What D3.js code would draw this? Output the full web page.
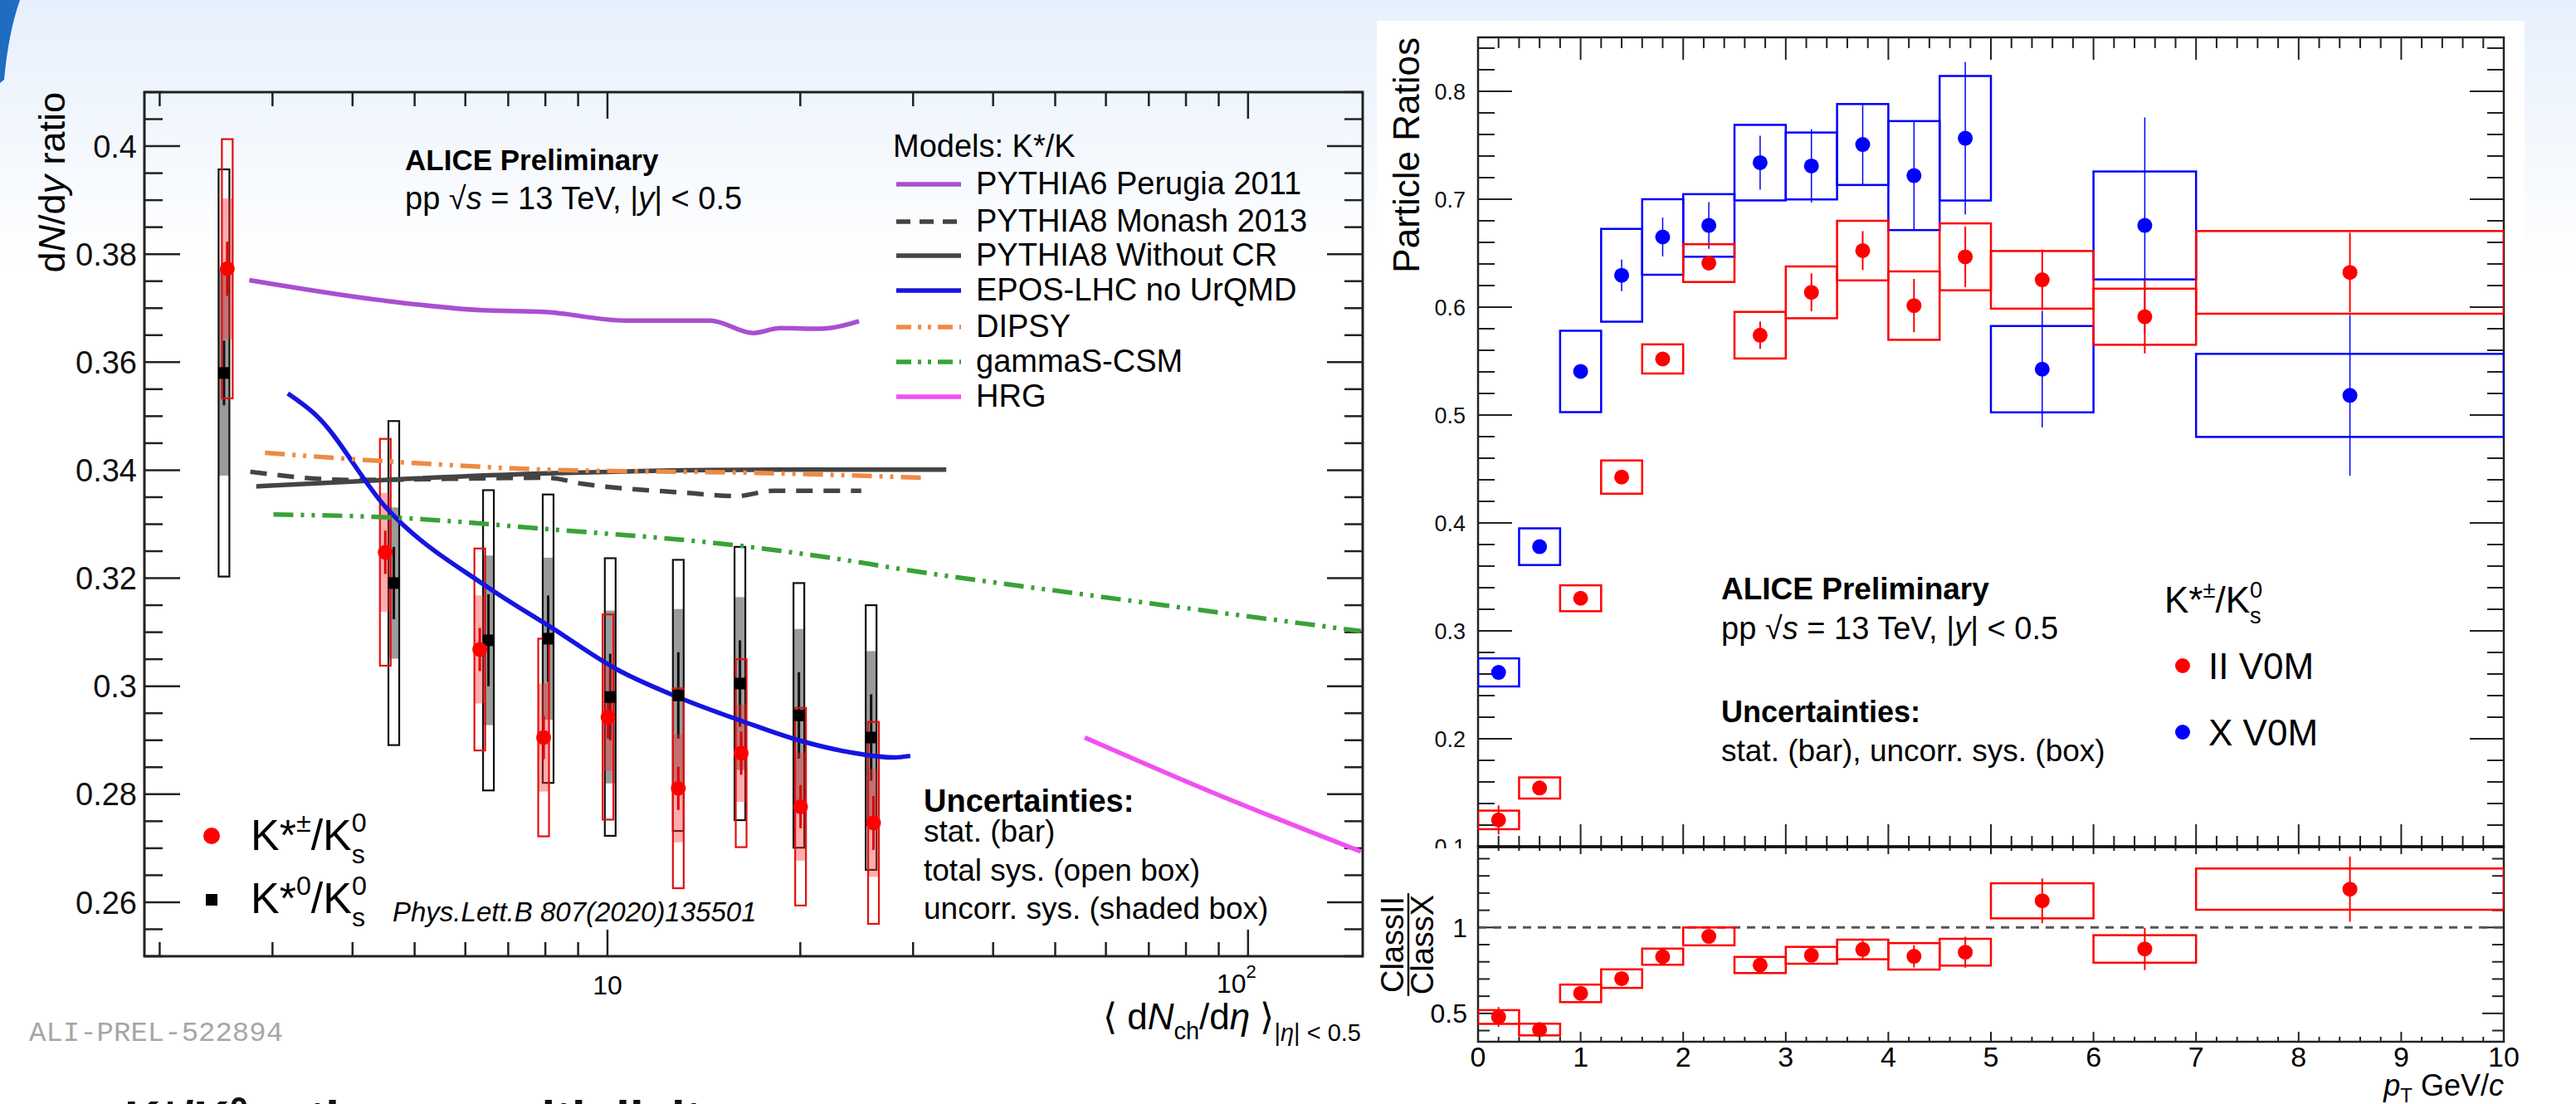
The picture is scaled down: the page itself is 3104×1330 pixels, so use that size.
<!DOCTYPE html>
<html>
<head>
<meta charset="UTF-8">
<title>K*/K ratios vs multiplicity and pT</title>
<script src="https://d3js.org/d3.v7.min.js"></script>
<style>
  body { margin: 0; background: #fff; }
  svg { display: block; font-family: "Liberation Sans", Arial, sans-serif; }
</style>
</head>
<body>
<script>
// ---------- left panel data: dN/dy ratio vs <dNch/deta>
const multRed   = [2.55, 4.50, 6.32, 7.95, 10.02, 12.9, 16.17, 20.02, 26.02];
const ratioRed  = [0.3773, 0.3248, 0.3068, 0.2905, 0.2943, 0.2811, 0.2876, 0.2777, 0.2747];
const statRed   = [0.005, 0.004, 0.004, 0.004, 0.004, 0.004, 0.004, 0.004, 0.005];
const uncRed    = [0.013, 0.011, 0.010, 0.010, 0.010, 0.010, 0.009, 0.010, 0.010];
const totRed    = [0.024, 0.021, 0.0187, 0.0183, 0.019, 0.0185, 0.0174, 0.0183, 0.0187];

const multBlack  = [2.52, 4.64, 6.52, 8.08, 10.1, 12.9, 16.1, 19.9, 25.8];
const ratioBlack = [0.358, 0.3191, 0.3085, 0.3088, 0.298, 0.2983, 0.3005, 0.2946, 0.2905];
const statBlack  = [0.006, 0.0067, 0.0085, 0.008, 0.008, 0.008, 0.008, 0.008, 0.008];
const uncBlack   = [0.019, 0.014, 0.0157, 0.015, 0.016, 0.016, 0.016, 0.016, 0.016];
const totBlack   = [0.0377, 0.030, 0.0278, 0.0267, 0.0257, 0.0251, 0.0253, 0.0245, 0.0245];

// model curves (x = <dNch/deta>, y = K*/K)
const pythia6X = [2.76, 4.48, 6.39, 7.97, 10.68, 14.47, 16.9, 18.6, 21.5, 24.7];
const pythia6Y = [0.3752, 0.3714, 0.3696, 0.3693, 0.3677, 0.3677, 0.3654, 0.3663, 0.3662, 0.3676];
const monashX = [2.77, 3.95, 8.04, 9.13, 13.3, 15.9, 18.2, 24.9];
const monashY = [0.3397, 0.3382, 0.3386, 0.3375, 0.3358, 0.3352, 0.3362, 0.3362];
const noCrX = [2.83, 4.48, 8.04, 18.6, 33.8];
const noCrY = [0.3370, 0.3382, 0.3394, 0.3401, 0.3401];
const eposX = [3.17, 3.50, 4.51, 6.47, 8.19, 10.35, 12.87, 16.26, 19.87, 24.66, 27.99, 29.7];
const eposY = [0.3542, 0.3503, 0.3331, 0.3185, 0.3108, 0.3031, 0.298, 0.2935, 0.290, 0.2875, 0.2868, 0.2871];
const dipsyX = [2.92, 4.87, 8.04, 17.1, 31.2];
const dipsyY = [0.3432, 0.3414, 0.3401, 0.3395, 0.3386];
const gammaX = [3.01, 4.67, 8.04, 16.1, 22.2, 29.4, 57.8, 150];
const gammaY = [0.3318, 0.3312, 0.3291, 0.326, 0.3238, 0.3215, 0.3167, 0.3102];
const hrgX = [55.6, 88.5, 150];
const hrgY = [0.2905, 0.2802, 0.2694];

const modelNames = ["PYTHIA6 Perugia 2011", "PYTHIA8 Monash 2013", "PYTHIA8 Without CR",
                    "EPOS-LHC no UrQMD", "DIPSY", "gammaS-CSM", "HRG"];

const yTickLeft = [0.26, 0.28, 0.3, 0.32, 0.34, 0.36, 0.38, 0.4];
const yTickLeftLabels = ["0.26", "0.28", "0.3", "0.32", "0.34", "0.36", "0.38", "0.4"];

// ---------- right panel data: ratios vs pT
const ptCenter = [0.2, 0.6, 1.0, 1.4, 1.8, 2.25, 2.75, 3.25, 3.75, 4.25, 4.75, 5.5, 6.5, 8.5];
const ptLow    = [0, 0.4, 0.8, 1.2, 1.6, 2.0, 2.5, 3.0, 3.5, 4.0, 4.5, 5, 6, 7];
const ptHigh   = [0.4, 0.8, 1.2, 1.6, 2.0, 2.5, 3.0, 3.5, 4.0, 4.5, 5, 6, 7, 10];

const classII = [0.1248, 0.1544, 0.3302, 0.4425, 0.552, 0.6408, 0.574, 0.6137, 0.6524, 0.6014, 0.6466, 0.6253, 0.5911, 0.6322];
const statII  = [0.0135, 0.0047, 0.003, 0.003, 0.003, 0.004, 0.0127, 0.0176, 0.018, 0.0247, 0.028, 0.028, 0.034, 0.0368];
const sysII   = [0.0086, 0.0098, 0.012, 0.0154, 0.0135, 0.0175, 0.0216, 0.024, 0.0276, 0.0317, 0.031, 0.0267, 0.026, 0.0383];

const classX = [0.2615, 0.378, 0.5404, 0.6295, 0.665, 0.6757, 0.7339, 0.7308, 0.7507, 0.7219, 0.7565, 0.5425, 0.6757, 0.5182];
const statX  = [0.003, 0.004, 0.005, 0.0146, 0.018, 0.0217, 0.025, 0.034, 0.037, 0.05, 0.0707, 0.054, 0.10, 0.0745];
const sysX   = [0.013, 0.017, 0.0377, 0.043, 0.035, 0.029, 0.035, 0.031, 0.0375, 0.0505, 0.0577, 0.04, 0.050, 0.0385];

const ratioIIX = [0.479, 0.406, 0.6165, 0.7023, 0.830, 0.948, 0.7816, 0.838, 0.872, 0.832, 0.856, 1.155, 0.875, 1.223];
const statRatio = [0.058, 0.02, 0.03, 0.03, 0.03, 0.03, 0.04, 0.04, 0.06, 0.065, 0.09, 0.13, 0.123, 0.19];
const sysRatio  = [0.04, 0.034, 0.051, 0.054, 0.047, 0.052, 0.047, 0.049, 0.057, 0.077, 0.078, 0.102, 0.080, 0.12];

const yTickRight = [0.1, 0.2, 0.3, 0.4, 0.5, 0.6, 0.7, 0.8];
const yTickRatio = [0.5, 1];
const xTickRight = [0, 1, 2, 3, 4, 5, 6, 7, 8, 9, 10];

// ---------- page
const width = 3104, height = 1330;
const svg = d3.select("body").append("svg").attr("width", width).attr("height", height);
const defs = svg.append("defs");

const grad = defs.append("linearGradient").attr("id", "bg")
  .attr("x1", 0).attr("y1", 0).attr("x2", 0).attr("y2", 1);
grad.append("stop").attr("offset", 0).attr("stop-color", "#e6f0fc");
grad.append("stop").attr("offset", 1).attr("stop-color", "#ffffff");

svg.append("rect").attr("width", width).attr("height", height).attr("fill", "#fff");
svg.append("rect").attr("width", width).attr("height", 320).attr("fill", "url(#bg)");
svg.append("path").attr("d", "M0,0 L24,0 Q10,40 5,96 L0,100 Z").attr("fill", "#1f6cc0");

// ================= LEFT PANEL =================
const L = { x0: 174, x1: 1642, y0: 111, y1: 1152 };
const xL = d3.scaleLog().domain([1.893, 151]).range([L.x0, L.x1]);
const yL = d3.scaleLinear().domain([0.25, 0.41]).range([L.y1, L.y0]);

defs.append("clipPath").attr("id", "clipL").append("rect")
  .attr("x", L.x0).attr("y", L.y0).attr("width", L.x1 - L.x0).attr("height", L.y1 - L.y0);

const left = svg.append("g");
const axisCol = "#222";

// y ticks
const yMinorL = d3.range(0.25, 0.4101, 0.005).map(d => +d.toFixed(3));
[[L.x0, 1], [L.x1, -1]].forEach(([x, s]) => {
  left.selectAll(null).data(yMinorL).join("line")
    .attr("x1", x).attr("x2", d => x + s * (yTickLeft.some(t => Math.abs(t - d) < 1e-6) ? 43 : 22))
    .attr("y1", d => yL(d)).attr("y2", d => yL(d))
    .attr("stroke", axisCol).attr("stroke-width", 2.5);
});
// x ticks (log)
const xTicksL = [2, 3, 4, 5, 6, 7, 8, 9, 10, 20, 30, 40, 50, 60, 70, 80, 90, 100];
[[L.y1, -1], [L.y0, 1]].forEach(([y, s]) => {
  left.selectAll(null).data(xTicksL).join("line")
    .attr("x1", d => xL(d)).attr("x2", d => xL(d))
    .attr("y1", y).attr("y2", d => y + s * ((d === 10 || d === 100) ? 32 : 17))
    .attr("stroke", axisCol).attr("stroke-width", 2.5);
});
left.append("rect").attr("x", L.x0).attr("y", L.y0)
  .attr("width", L.x1 - L.x0).attr("height", L.y1 - L.y0)
  .attr("fill", "none").attr("stroke", axisCol).attr("stroke-width", 3);

left.selectAll(null).data(yTickLeft).join("text")
  .attr("x", 165).attr("y", d => yL(d)).attr("dy", "0.36em")
  .attr("text-anchor", "end").attr("font-size", 38).attr("fill", "#111")
  .text((d, i) => yTickLeftLabels[i]);

left.append("text").attr("x", xL(10)).attr("y", 1198).attr("text-anchor", "middle")
  .attr("font-size", 32).text("10");
const t100 = left.append("text").attr("x", xL(100) + 10).attr("y", 1196).attr("text-anchor", "end")
  .attr("font-size", 32);
t100.append("tspan").text("10");
t100.append("tspan").attr("font-size", 22).attr("dy", -18).text("2");

// axis titles
const yTitle = left.append("text").attr("transform", "translate(78,111) rotate(-90)")
  .attr("text-anchor", "end").attr("font-size", 45);
yTitle.append("tspan").text("d");
yTitle.append("tspan").attr("font-style", "italic").text("N");
yTitle.append("tspan").text("/d");
yTitle.append("tspan").attr("font-style", "italic").text("y");
yTitle.append("tspan").text(" ratio");

const xTitle = left.append("text").attr("x", 1640).attr("y", 1240)
  .attr("text-anchor", "end").attr("font-size", 44);
xTitle.append("tspan").text("\u27E8 d");
xTitle.append("tspan").attr("font-style", "italic").text("N");
xTitle.append("tspan").attr("font-size", 29).attr("dy", 12).text("ch");
xTitle.append("tspan").attr("dy", -12).text("/d");
xTitle.append("tspan").attr("font-style", "italic").text("\u03B7");
xTitle.append("tspan").text(" \u27E9");
xTitle.append("tspan").attr("font-size", 29).attr("dy", 14).text("|");
xTitle.append("tspan").attr("font-size", 29).attr("font-style", "italic").text("\u03B7");
xTitle.append("tspan").attr("font-size", 29).text("| < 0.5");

// data boxes
const plotL = left.append("g").attr("clip-path", "url(#clipL)");
const bw = 13;
function drawSeries(g, xs, ys, stat, unc, tot, openCol, fillCol, fillOp, statCol) {
  g.selectAll(null).data(xs).join("rect")
    .attr("x", d => xL(d) - bw / 2).attr("width", bw)
    .attr("y", (d, i) => yL(ys[i] + unc[i]))
    .attr("height", (d, i) => yL(ys[i] - unc[i]) - yL(ys[i] + unc[i]))
    .attr("fill", fillCol).attr("fill-opacity", fillOp);
  g.selectAll(null).data(xs).join("rect")
    .attr("x", d => xL(d) - bw / 2).attr("width", bw)
    .attr("y", (d, i) => yL(ys[i] + tot[i]))
    .attr("height", (d, i) => yL(ys[i] - tot[i]) - yL(ys[i] + tot[i]))
    .attr("fill", "none").attr("stroke", openCol).attr("stroke-width", 2.2);
  g.selectAll(null).data(xs).join("line")
    .attr("x1", d => xL(d)).attr("x2", d => xL(d))
    .attr("y1", (d, i) => yL(ys[i] + stat[i])).attr("y2", (d, i) => yL(ys[i] - stat[i]))
    .attr("stroke", statCol).attr("stroke-width", 3);
}
drawSeries(plotL, multBlack, ratioBlack, statBlack, uncBlack, totBlack, "#111", "#8a8a8a", 0.85, "#111");
drawSeries(plotL, multRed, ratioRed, statRed, uncRed, totRed, "#e01010", "#ff3030", 0.4, "#e00000");

// model lines
const models = [
  { x: pythia6X, y: pythia6Y, color: "#a94fd0", dash: null },
  { x: monashX, y: monashY, color: "#444", dash: "20,13" },
  { x: noCrX, y: noCrY, color: "#444", dash: null },
  { x: eposX, y: eposY, color: "#1515e0", dash: null },
  { x: dipsyX, y: dipsyY, color: "#ee8a45", dash: "24,9,4,9,4,9" },
  { x: gammaX, y: gammaY, color: "#38a238", dash: "24,9,4,9,4,9" },
  { x: hrgX, y: hrgY, color: "#f050f0", dash: null }
];
const lineL = d3.line().x(d => xL(d[0])).y(d => yL(d[1])).curve(d3.curveMonotoneX);
models.forEach(m => {
  plotL.append("path").datum(m.x.map((v, i) => [v, m.y[i]]))
    .attr("d", lineL).attr("fill", "none").attr("stroke", m.color)
    .attr("stroke-width", 5.5).attr("stroke-dasharray", m.dash);
});

// markers
plotL.selectAll(null).data(multBlack).join("rect")
  .attr("x", d => xL(d) - 7).attr("y", (d, i) => yL(ratioBlack[i]) - 7)
  .attr("width", 14).attr("height", 14).attr("fill", "#000");
plotL.selectAll(null).data(multRed).join("circle")
  .attr("cx", d => xL(d)).attr("cy", (d, i) => yL(ratioRed[i])).attr("r", 9)
  .attr("fill", "#f00");

// text / legends
left.append("text").attr("x", 488).attr("y", 205).attr("font-size", 35).attr("font-weight", "bold")
  .text("ALICE Preliminary");
function energyLine(g, x, y, fs) {
  const t = g.append("text").attr("x", x).attr("y", y).attr("font-size", fs);
  t.append("tspan").text("pp \u221A");
  t.append("tspan").attr("font-style", "italic").text("s");
  t.append("tspan").text(" = 13 TeV, |");
  t.append("tspan").attr("font-style", "italic").text("y");
  t.append("tspan").text("| < 0.5");
}
energyLine(left, 488, 252, 38);

left.append("text").attr("x", 1076).attr("y", 189).attr("font-size", 38).text("Models: K*/K");
const legY = [222, 267, 308, 350, 394, 436, 478];
models.forEach((m, i) => {
  left.append("line").attr("x1", 1080).attr("x2", 1158).attr("y1", legY[i]).attr("y2", legY[i])
    .attr("stroke", m.color).attr("stroke-width", 5.5)
    .attr("stroke-dasharray", m.dash ? (i === 1 ? "17,11" : "18,8,4,8,4,8") : null);
  left.append("text").attr("x", 1176).attr("y", legY[i] + 12).attr("font-size", 38).text(modelNames[i]);
});

function kRatio(g, x, y, fs, sup) {
  const t = g.append("text").attr("x", x).attr("y", y).attr("font-size", fs);
  const s = fs * 0.62;
  t.append("tspan").text("K*");
  t.append("tspan").attr("font-size", s).attr("dy", -fs * 0.42).text(sup);
  t.append("tspan").attr("dy", fs * 0.42).text("/K");
  t.append("tspan").attr("font-size", s).attr("dy", -fs * 0.42).text("0");
  t.append("tspan").attr("font-size", s).attr("dx", -s * 0.556).attr("dy", fs * 0.72).text("s");
  return t;
}
left.append("circle").attr("cx", 255).attr("cy", 1007).attr("r", 10).attr("fill", "#f00");
kRatio(left, 302, 1024, 52, "\u00B1");
left.append("rect").attr("x", 248).attr("y", 1077).attr("width", 14).attr("height", 14).attr("fill", "#000");
kRatio(left, 302, 1100, 52, "0");
left.append("text").attr("x", 473).attr("y", 1110).attr("font-size", 33).attr("font-style", "italic")
  .text("Phys.Lett.B 807(2020)135501");

const uncLines = ["stat. (bar)", "total sys. (open box)", "uncorr. sys. (shaded box)"];
left.append("text").attr("x", 1113).attr("y", 978).attr("font-size", 38).attr("font-weight", "bold")
  .text("Uncertainties:");
left.selectAll(null).data(uncLines).join("text")
  .attr("x", 1113).attr("y", (d, i) => 1014 + i * 46.5).attr("font-size", 37).text(d => d);

left.append("text").attr("x", 35).attr("y", 1254).attr("font-family", "Liberation Mono, monospace")
  .attr("font-size", 34).attr("fill", "#a6a6a6").text("ALI-PREL-522894");

// partially visible slide heading at the bottom
const head = svg.append("text").attr("x", 150).attr("y", 1368).attr("font-size", 60)
  .attr("font-weight", "bold").attr("fill", "#111");
head.append("tspan").text("K*/K");
head.append("tspan").attr("font-size", 40).attr("dy", -18).text("0");
head.append("tspan").attr("dy", 18).text(" ratio vs. multiplicity");

// ================= RIGHT PANEL =================
svg.append("rect").attr("x", 1659).attr("y", 25).attr("width", 1383).attr("height", 1305).attr("fill", "#fff");

const R = { x0: 1781, x1: 3017, y0: 45, y1: 1020, y2: 1255 };
const xR = d3.scaleLinear().domain([0, 10]).range([R.x0, R.x1]);
const yR = d3.scaleLinear().domain([0.1, 0.85]).range([R.y1, R.y0]);
const yRr = d3.scaleLinear().domain([0.335, 1.47]).range([R.y2, R.y1]);

defs.append("clipPath").attr("id", "clipR").append("rect")
  .attr("x", R.x0).attr("y", R.y0).attr("width", R.x1 - R.x0).attr("height", R.y1 - R.y0);
defs.append("clipPath").attr("id", "clipRr").append("rect")
  .attr("x", R.x0).attr("y", R.y1).attr("width", R.x1 - R.x0).attr("height", R.y2 - R.y1);

const right = svg.append("g");
const xMinorR = d3.range(0, 10.001, 0.2).map(d => +d.toFixed(1));
const isInt = d => Math.abs(d - Math.round(d)) < 1e-6;

// upper pad ticks
const yMinorR = d3.range(0.1, 0.8501, 0.02).map(d => +d.toFixed(2));
[[R.x0, 1], [R.x1, -1]].forEach(([x, s]) => {
  right.selectAll(null).data(yMinorR).join("line")
    .attr("x1", x).attr("x2", d => x + s * (Math.abs(d * 10 - Math.round(d * 10)) < 1e-6 ? 41 : 20))
    .attr("y1", d => yR(d)).attr("y2", d => yR(d))
    .attr("stroke", axisCol).attr("stroke-width", 2);
});
[[R.y0, 1], [R.y1, -1]].forEach(([y, s]) => {
  right.selectAll(null).data(xMinorR).join("line")
    .attr("x1", d => xR(d)).attr("x2", d => xR(d))
    .attr("y1", y).attr("y2", d => y + s * (isInt(d) ? 27 : 13))
    .attr("stroke", axisCol).attr("stroke-width", 2);
});
right.append("rect").attr("x", R.x0).attr("y", R.y0)
  .attr("width", R.x1 - R.x0).attr("height", R.y1 - R.y0)
  .attr("fill", "none").attr("stroke", axisCol).attr("stroke-width", 2.5);
right.selectAll(null).data(yTickRight).join("text")
  .attr("x", 1766).attr("y", d => yR(d)).attr("dy", "0.36em").attr("text-anchor", "end")
  .attr("font-size", 27).attr("fill", "#111").text(d => d.toFixed(1));

right.append("text").attr("transform", "translate(1710,45) rotate(-90)").attr("text-anchor", "end")
  .attr("font-size", 44).text("Particle Ratios");

const plotR = right.append("g").attr("clip-path", "url(#clipR)");
function drawPt(g, vals, stat, sys, col, ys, statW) {
  g.selectAll(null).data(ptCenter).join("rect")
    .attr("x", (d, i) => xR(ptLow[i])).attr("width", (d, i) => xR(ptHigh[i]) - xR(ptLow[i]))
    .attr("y", (d, i) => ys(vals[i] + sys[i]))
    .attr("height", (d, i) => ys(vals[i] - sys[i]) - ys(vals[i] + sys[i]))
    .attr("fill", "none").attr("stroke", col).attr("stroke-width", 2.5);
  g.selectAll(null).data(ptCenter).join("line")
    .attr("x1", d => xR(d)).attr("x2", d => xR(d))
    .attr("y1", (d, i) => ys(vals[i] + stat[i])).attr("y2", (d, i) => ys(vals[i] - stat[i]))
    .attr("stroke", col).attr("stroke-width", statW);
  g.selectAll(null).data(ptCenter).join("circle")
    .attr("cx", d => xR(d)).attr("cy", (d, i) => ys(vals[i])).attr("r", 9).attr("fill", col);
}
drawPt(plotR, classX, statX, sysX, "#0000ff", yR, 1.5);
drawPt(plotR, classII, statII, sysII, "#ff0000", yR, 2);

// texts in upper pad
right.append("text").attr("x", 2074).attr("y", 722).attr("font-size", 37).attr("font-weight", "bold")
  .text("ALICE Preliminary");
energyLine(right, 2074, 770, 38);
right.append("text").attr("x", 2074).attr("y", 870).attr("font-size", 36).attr("font-weight", "bold")
  .text("Uncertainties:");
right.append("text").attr("x", 2074).attr("y", 917).attr("font-size", 37)
  .text("stat. (bar), uncorr. sys. (box)");

kRatio(right, 2608, 738, 44, "\u00B1");
const legR = [["II V0M", "#ff0000", 802], ["X V0M", "#0000ff", 882]];
legR.forEach(([lab, col, y]) => {
  right.append("circle").attr("cx", 2630).attr("cy", y).attr("r", 9).attr("fill", col);
  right.append("text").attr("x", 2661).attr("y", y + 16).attr("font-size", 44).text(lab);
});

// lower (ratio) pad
right.append("rect").attr("x", 1659).attr("y", R.y1 + 2).attr("width", 1383).attr("height", 1330 - R.y1 - 2)
  .attr("fill", "#fff");
const yMinorRr = d3.range(0.4, 1.4001, 0.1).map(d => +d.toFixed(1));
[[R.x0, 1], [R.x1, -1]].forEach(([x, s]) => {
  right.selectAll(null).data(yMinorRr).join("line")
    .attr("x1", x).attr("x2", d => x + s * (yTickRatio.includes(d) ? 26 : 14))
    .attr("y1", d => yRr(d)).attr("y2", d => yRr(d))
    .attr("stroke", axisCol).attr("stroke-width", 2);
});
[[R.y2, -1, 12, 6], [R.y1, 1, 9, 5]].forEach(([y, s, big, small]) => {
  right.selectAll(null).data(xMinorR).join("line")
    .attr("x1", d => xR(d)).attr("x2", d => xR(d))
    .attr("y1", y).attr("y2", d => y + s * (isInt(d) ? big : small))
    .attr("stroke", axisCol).attr("stroke-width", 2);
});
right.append("line").attr("x1", R.x0).attr("x2", R.x1).attr("y1", yRr(1)).attr("y2", yRr(1))
  .attr("stroke", "#555").attr("stroke-width", 3).attr("stroke-dasharray", "10,8");
right.append("rect").attr("x", R.x0).attr("y", R.y1)
  .attr("width", R.x1 - R.x0).attr("height", R.y2 - R.y1)
  .attr("fill", "none").attr("stroke", axisCol).attr("stroke-width", 2.5);
right.append("line").attr("x1", R.x0).attr("x2", R.x1).attr("y1", R.y1).attr("y2", R.y1)
  .attr("stroke", "#111").attr("stroke-width", 3.5);

const plotRr = right.append("g").attr("clip-path", "url(#clipRr)");
drawPt(plotRr, ratioIIX, statRatio, sysRatio, "#ff0000", yRr, 2);

right.selectAll(null).data(yTickRatio).join("text")
  .attr("x", 1768).attr("y", d => yRr(d)).attr("dy", "0.36em").attr("text-anchor", "end")
  .attr("font-size", 32).text(d => d === 1 ? "1" : "0.5");
right.selectAll(null).data(xTickRight).join("text")
  .attr("x", d => xR(d)).attr("y", 1285).attr("text-anchor", "middle")
  .attr("font-size", 34).text(d => d);

const ptT = right.append("text").attr("x", 3017).attr("y", 1320).attr("text-anchor", "end").attr("font-size", 36);
ptT.append("tspan").attr("font-style", "italic").text("p");
ptT.append("tspan").attr("font-size", 24).attr("dy", 8).text("T");
ptT.append("tspan").attr("dy", -8).text(" GeV/");
ptT.append("tspan").attr("font-style", "italic").text("c");

const frac = right.append("g").attr("transform", "translate(1697,1138) rotate(-90)");
frac.append("text").attr("x", 0).attr("y", -6).attr("text-anchor", "middle").attr("font-size", 38).text("ClassII");
frac.append("text").attr("x", 0).attr("y", 30).attr("text-anchor", "middle").attr("font-size", 38).text("ClassX");
frac.append("line").attr("x1", -62).attr("x2", 62).attr("y1", 0).attr("y2", 0).attr("stroke", "#111").attr("stroke-width", 2.5);

svg.append("text").attr("x", 1668).attr("y", 1350).attr("font-family", "Liberation Mono, monospace")
  .attr("font-size", 28).attr("fill", "#b0b0b0").text("ALI-PREL-522940");
</script>
</body>
</html>
